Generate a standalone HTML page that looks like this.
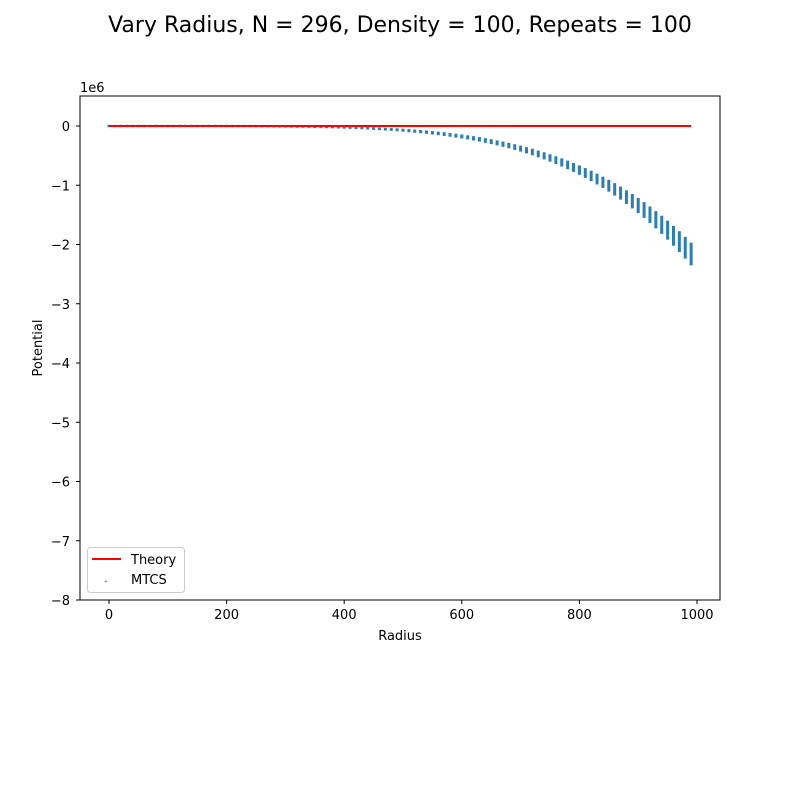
<!DOCTYPE html>
<html><head><meta charset="utf-8"><style>
body{margin:0;background:#fff;}
svg{display:block;font-family:"DejaVu Sans","Liberation Sans",sans-serif;}
</style></head><body>
<svg id="c" width="800" height="800" xmlns="http://www.w3.org/2000/svg">
<rect width="800" height="800" fill="#fff"/>
<text x="400" y="32" font-size="22" text-anchor="middle">Vary Radius, N = 296, Density = 100, Repeats = 100</text>
<g id="plot"></g>
<rect x="80" y="96" width="640" height="504" fill="none" stroke="#000" stroke-width="1"/>
<text x="80" y="92" font-size="13">1e6</text>
<text x="400" y="640" font-size="13" text-anchor="middle">Radius</text>
<text x="42" y="348" font-size="13" text-anchor="middle" transform="rotate(-90 42 348)">Potential</text>
<g>
<rect x="87.5" y="547.5" width="97" height="45" rx="3" fill="#fff" fill-opacity="0.8" stroke="#ccc"/>
<line x1="92" y1="559" x2="121" y2="559" stroke="red" stroke-width="2"/>
<text x="131" y="564" font-size="13">Theory</text>
<text x="106" y="583" font-size="5" fill="#1f77b4" text-anchor="middle">+</text>
<text x="131" y="584" font-size="13">MTCS</text>
</g>
</svg>
<script>
const radii = [];
for (let r = 0; r <= 990; r += 10) radii.push(r);
// mean MTCS potential (x1e6)
const means = [0,0,0,0,0,0,0,0,0,0,0,0,0,0,0,0,0,0,0,0,
0.001,0.001,0.001,0.001,0.001,0.002,0.002,0.003,0.003,0.004,
0.005,0.006,0.007,0.009,0.010,0.012,0.014,0.016,0.018,0.020,
0.023,0.026,0.029,0.033,0.037,0.042,0.046,0.052,0.057,0.064,
0.070,0.078,0.086,0.094,0.103,0.113,0.124,0.135,0.148,0.161,
0.175,0.190,0.206,0.223,0.242,0.261,0.282,0.304,0.327,0.352,
0.378,0.406,0.435,0.467,0.499,0.534,0.571,0.609,0.650,0.692,
0.737,0.785,0.834,0.886,0.941,0.998,1.059,1.121,1.188,1.257,
1.329,1.404,1.483,1.566,1.651,1.741,1.835,1.932,2.034,2.140];
const theoryR = [0, 990];
const theoryV = [0, 0];
const xTicks = [0, 200, 400, 600, 800, 1000];
const yTicks = [0, -1, -2, -3, -4, -5, -6, -7, -8];
const yTickLabels = ["0","\u22121","\u22122","\u22123","\u22124","\u22125","\u22126","\u22127","\u22128"];

const X = v => 109 + v * 0.588;
const Y = v => 126 - v * 59.25;
const NS = "http://www.w3.org/2000/svg";
const svg = document.getElementById('c');
const plot = document.getElementById('plot');
function mk(tag, attrs, parent) {
  const e = document.createElementNS(NS, tag);
  for (const k in attrs) e.setAttribute(k, attrs[k]);
  (parent || svg).appendChild(e);
  return e;
}
xTicks.forEach(t => {
  const g = mk('g', {});
  
  
  mk('line', {x1: X(t), x2: X(t), y1: 600, y2: 604, stroke: '#000'}, g);
  const tx = mk('text', {x: X(t), y: 619, 'font-size': 13, 'text-anchor': 'middle'}, g);
  tx.textContent = t;
});
yTicks.forEach((t, i) => {
  const g = mk('g', {});
  
  
  mk('line', {x1: 76, x2: 80, y1: Y(t), y2: Y(t), stroke: '#000'}, g);
  const tx = mk('text', {x: 70, y: Y(t) + 5, 'font-size': 13, 'text-anchor': 'end'}, g);
  tx.textContent = yTickLabels[i];
});
const sg = mk('g', {}, plot);


radii.forEach((r, i) => {
  const m = -means[i];
  const lo = m * 1.09, hi = m * 0.93;
  const x = X(r);
  const y1 = Y(hi), y2 = Y(lo);
  const col = mk('rect', {x: x - 1.5, y: y1 - 1.2, width: 3, height: Math.max(2.4, y2 - y1 + 2.4), fill: '#1f77b4', 'fill-opacity': 0.95}, sg);
  
  
});
const tl = mk('line', {x1: X(theoryR[0]), y1: Y(theoryV[0]), x2: X(theoryR[1]), y2: Y(theoryV[1]), stroke: 'red', 'stroke-width': 2}, plot);


</script>
</body></html>
